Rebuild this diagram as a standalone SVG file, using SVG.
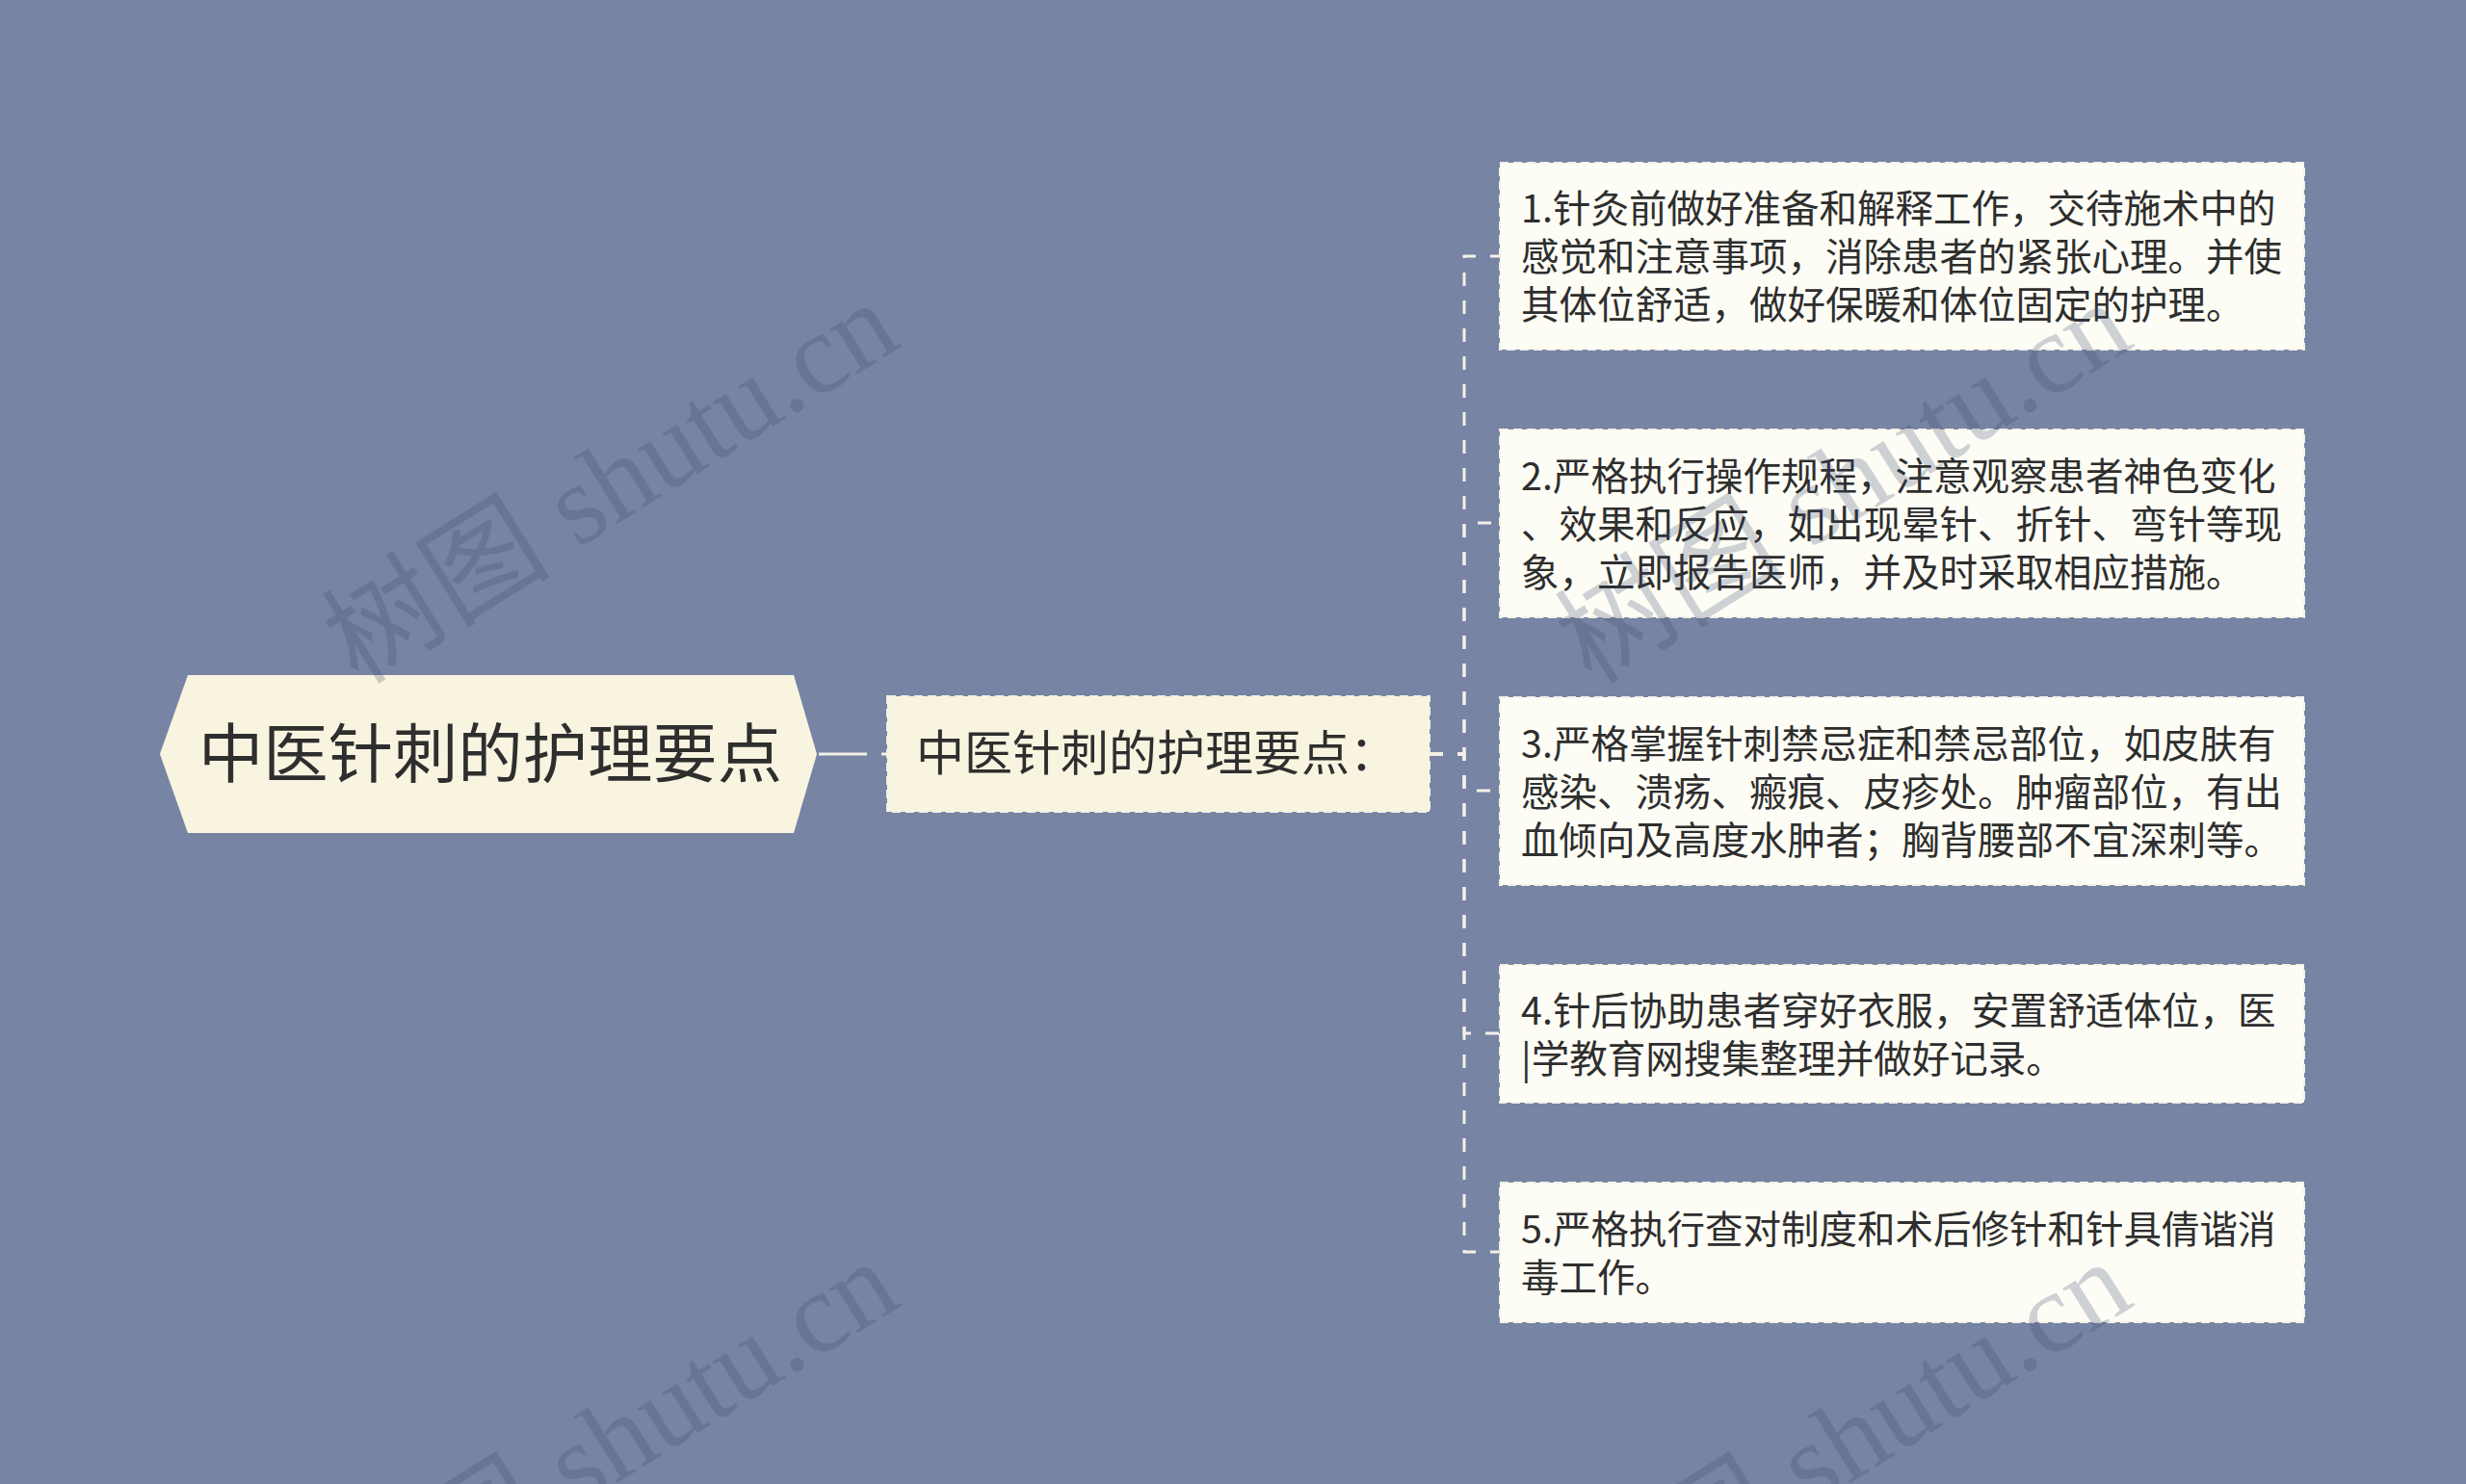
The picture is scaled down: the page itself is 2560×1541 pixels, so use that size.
<svg xmlns="http://www.w3.org/2000/svg" width="2560" height="1541" viewBox="0 0 2560 1541">
<style>
.bg{fill:#7784a4}
.root{fill:#f8f4e0}
.mid{fill:#f8f4e0;stroke:#f4f1e6;stroke-width:2;stroke-dasharray:9 5}
.leaf{fill:#fdfdf5;stroke:#f4f1e6;stroke-width:2;stroke-dasharray:9 5}
.t{font-family:"Noto Sans CJK SC","Noto Sans",sans-serif;fill:#2e2e2e}
.lt{font-size:39.5px}
.conn{fill:none;stroke:#f4f1e6;stroke-width:3;stroke-dasharray:14 15}
.wm{font-family:"Liberation Serif","Noto Sans CJK SC",serif;font-size:119px;fill:#3c4a6a;opacity:0.24}
</style>
<rect class="bg" x="0" y="0" width="2560" height="1541"/>

<g id="connectors">
  <path d="M850,783 H921" fill="none" stroke="#f4f1e6" stroke-width="3" stroke-dasharray="50 15"/>
  <path class="conn" d="M1484,783 H1520 V266 H1557"/>
  <path class="conn" d="M1484,783 H1520 V543 H1557"/>
  <path class="conn" d="M1484,783 H1520 V821 H1557"/>
  <path class="conn" d="M1484,783 H1520 V1073 H1557"/>
  <path class="conn" d="M1484,783 H1520 V1300 H1557"/>
</g>

<g id="root">
  <polygon class="root" points="166,783 195,701 824,701 848,783 824,865 195,865"/>
  <text class="t" x="206" y="807" font-size="67" textLength="606" lengthAdjust="spacingAndGlyphs">中医针刺的护理要点</text>
</g>

<g id="middle">
  <rect class="mid" x="921" y="723" width="563" height="120"/>
  <text class="t" x="951" y="800" font-size="50">中医针刺的护理要点：</text>
</g>

<g id="leaf1">
  <rect class="leaf" x="1557" y="169" width="835" height="194"/>
  <text class="t lt" x="1579" y="231">1.针灸前做好准备和解释工作，交待施术中的</text>
  <text class="t lt" x="1579" y="281">感觉和注意事项，消除患者的紧张心理。并使</text>
  <text class="t lt" x="1579" y="331">其体位舒适，做好保暖和体位固定的护理。</text>
</g>

<g id="leaf2">
  <rect class="leaf" x="1557" y="446" width="835" height="195"/>
  <text class="t lt" x="1579" y="509">2.严格执行操作规程，注意观察患者神色变化</text>
  <text class="t lt" x="1579" y="559">、效果和反应，如出现晕针、折针、弯针等现</text>
  <text class="t lt" x="1579" y="609">象，立即报告医师，并及时采取相应措施。</text>
</g>

<g id="leaf3">
  <rect class="leaf" x="1557" y="724" width="835" height="195"/>
  <text class="t lt" x="1579" y="787">3.严格掌握针刺禁忌症和禁忌部位，如皮肤有</text>
  <text class="t lt" x="1579" y="837">感染、溃疡、瘢痕、皮疹处。肿瘤部位，有出</text>
  <text class="t lt" x="1579" y="887">血倾向及高度水肿者；胸背腰部不宜深刺等。</text>
</g>

<g id="leaf4">
  <rect class="leaf" x="1557" y="1002" width="835" height="143"/>
  <text class="t lt" x="1579" y="1064">4.针后协助患者穿好衣服，安置舒适体位，医</text>
  <text class="t lt" x="1579" y="1114">|学教育网搜集整理并做好记录。</text>
</g>

<g id="leaf5">
  <rect class="leaf" x="1557" y="1228" width="835" height="145"/>
  <text class="t lt" x="1579" y="1291">5.严格执行查对制度和术后修针和针具倩谐消</text>
  <text class="t lt" x="1579" y="1341">毒工作。</text>
</g>

<g id="watermarks">
  <text class="wm" transform="translate(372,712) rotate(-32)">树图 shutu.cn</text>
  <text class="wm" transform="translate(1652,712) rotate(-32)">树图 shutu.cn</text>
  <text class="wm" transform="translate(372,1708) rotate(-32)">树图 shutu.cn</text>
  <text class="wm" transform="translate(1652,1708) rotate(-32)">树图 shutu.cn</text>
</g>
</svg>
